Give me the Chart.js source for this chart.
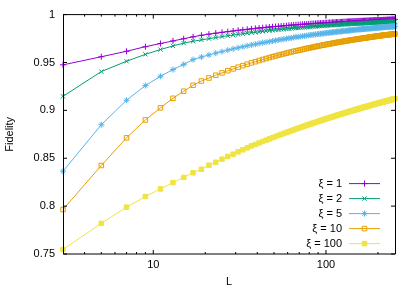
<!DOCTYPE html>
<html>
<head>
<meta charset="utf-8">
<script src="https://cdn.jsdelivr.net/npm/chart.js@4.4.1/dist/chart.umd.min.js"></script>
<style>
  body { margin: 0; background: #fff; }
  #wrap { width: 415px; height: 291px; }
</style>
</head>
<body>
<div id="wrap"><canvas id="fidChart" width="415" height="291"></canvas></div>
<script>
// system sizes L (all odd values 3..251)
const L = [
  3,5,7,9,11,13,15,17,19,21, 23,25,27,29,31,33,35,37,39,41, 43,45,47,49,51,53,55,57,59,61,
  63,65,67,69,71,73,75,77,79,81, 83,85,87,89,91,93,95,97,99,101, 103,105,107,109,111,113,115,117,119,121,
  123,125,127,129,131,133,135,137,139,141, 143,145,147,149,151,153,155,157,159,161,
  163,165,167,169,171,173,175,177,179,181, 183,185,187,189,191,193,195,197,199,201,
  203,205,207,209,211,213,215,217,219,221, 223,225,227,229,231,233,235,237,239,241, 243,245,247,249,251];

const xi1 = [
  .9475,.9560,.9617,.9665,.9698,.9725,.9748,.9768,.9784,.9796, .9806,.9815,.9822,.9829,.9836,.9841,.9846,.9851,.9856,.9860,
  .9863,.9867,.9870,.9873,.9876,.9878,.9881,.9883,.9885,.9888, .9890,.9892,.9894,.9895,.9897,.9898,.9900,.9901,.9903,.9904,
  .9906,.9907,.9908,.9909,.9910,.9911,.9912,.9913,.9914,.9915, .9916,.9917,.9918,.9919,.9920,.9921,.9922,.9922,.9923,.9924,
  .9924,.9925,.9926,.9926,.9927,.9928,.9928,.9929,.9930,.9930, .9931,.9931,.9932,.9932,.9933,.9933,.9934,.9934,.9935,.9935,
  .9935,.9936,.9936,.9937,.9937,.9938,.9938,.9938,.9939,.9939, .9940,.9940,.9940,.9941,.9941,.9941,.9942,.9942,.9942,.9942,
  .9943,.9943,.9944,.9944,.9944,.9944,.9945,.9945,.9945,.9945, .9946,.9946,.9947,.9947,.9947,.9947,.9948,.9948,.9948,.9948,
  .9949,.9949,.9949,.9950,.9950];
const xi2 = [
  .9147,.9405,.9513,.9585,.9635,.9673,.9702,.9722,.9736,.9749, .9760,.9770,.9779,.9786,.9793,.9800,.9806,.9811,.9816,.9820,
  .9825,.9829,.9832,.9836,.9839,.9842,.9845,.9848,.9850,.9853, .9855,.9857,.9860,.9862,.9864,.9865,.9867,.9869,.9871,.9872,
  .9874,.9875,.9877,.9878,.9880,.9881,.9882,.9883,.9885,.9886, .9887,.9888,.9889,.9890,.9891,.9892,.9893,.9894,.9895,.9896,
  .9896,.9897,.9898,.9899,.9900,.9901,.9901,.9902,.9903,.9903, .9904,.9904,.9905,.9905,.9906,.9907,.9907,.9908,.9909,.9909,
  .9910,.9910,.9911,.9911,.9912,.9912,.9913,.9913,.9914,.9914, .9915,.9915,.9916,.9916,.9917,.9917,.9917,.9918,.9918,.9918,
  .9919,.9919,.9920,.9920,.9920,.9921,.9921,.9922,.9922,.9922, .9923,.9923,.9924,.9924,.9924,.9925,.9925,.9926,.9926,.9926,
  .9926,.9927,.9927,.9927,.9927];
const xi5 = [
  .8364,.8850,.9106,.9259,.9356,.9426,.9480,.9530,.9557,.9579, .9598,.9614,.9629,.9642,.9653,.9664,.9674,.9683,.9691,.9699,
  .9706,.9712,.9718,.9724,.9730,.9735,.9740,.9744,.9749,.9753, .9757,.9761,.9765,.9768,.9771,.9774,.9777,.9780,.9783,.9786,
  .9789,.9791,.9793,.9795,.9798,.9800,.9802,.9804,.9806,.9808, .9810,.9812,.9813,.9815,.9817,.9818,.9820,.9822,.9823,.9824,
  .9826,.9827,.9828,.9830,.9831,.9832,.9834,.9835,.9836,.9838, .9839,.9840,.9841,.9842,.9843,.9844,.9845,.9846,.9847,.9848,
  .9849,.9850,.9851,.9852,.9852,.9853,.9854,.9855,.9855,.9856, .9857,.9858,.9858,.9859,.9860,.9861,.9861,.9862,.9863,.9864,
  .9864,.9865,.9866,.9867,.9868,.9868,.9869,.9869,.9870,.9870, .9871,.9871,.9872,.9872,.9873,.9873,.9874,.9874,.9875,.9875,
  .9876,.9876,.9877,.9877,.9878];
const xi10 = [
  .7965,.8424,.8713,.8900,.9026,.9126,.9200,.9262,.9306,.9338, .9367,.9391,.9414,.9433,.9451,.9467,.9482,.9496,.9508,.9520,
  .9531,.9541,.9551,.9560,.9568,.9576,.9583,.9590,.9597,.9604, .9610,.9616,.9621,.9626,.9631,.9636,.9641,.9646,.9650,.9654,
  .9658,.9662,.9666,.9669,.9673,.9676,.9680,.9683,.9686,.9689, .9692,.9694,.9697,.9700,.9702,.9705,.9708,.9710,.9713,.9715,
  .9717,.9719,.9721,.9724,.9726,.9728,.9729,.9731,.9733,.9735, .9737,.9739,.9740,.9742,.9744,.9745,.9747,.9748,.9750,.9751,
  .9753,.9754,.9756,.9757,.9758,.9760,.9761,.9762,.9764,.9765, .9766,.9767,.9769,.9770,.9771,.9772,.9774,.9775,.9776,.9777,
  .9778,.9779,.9780,.9781,.9782,.9783,.9784,.9785,.9786,.9787, .9788,.9788,.9789,.9790,.9791,.9792,.9792,.9793,.9794,.9795,
  .9796,.9797,.9797,.9798,.9799];
const xi100 = [
  .7547,.7820,.7989,.8100,.8180,.8246,.8300,.8348,.8385,.8427, .8458,.8490,.8518,.8542,.8567,.8588,.8609,.8629,.8643,.8660,
  .8675,.8689,.8702,.8714,.8726,.8738,.8749,.8759,.8769,.8778, .8787,.8796,.8805,.8813,.8821,.8828,.8836,.8843,.8850,.8857,
  .8863,.8869,.8875,.8881,.8887,.8893,.8899,.8904,.8909,.8914, .8919,.8923,.8928,.8933,.8937,.8942,.8946,.8951,.8955,.8959,
  .8962,.8966,.8970,.8974,.8978,.8981,.8985,.8988,.8991,.8995, .8998,.9001,.9005,.9008,.9011,.9014,.9017,.9020,.9023,.9026,
  .9029,.9031,.9034,.9037,.9039,.9042,.9044,.9047,.9049,.9052, .9054,.9057,.9059,.9062,.9064,.9066,.9069,.9071,.9073,.9075,
  .9077,.9079,.9081,.9083,.9085,.9087,.9089,.9091,.9093,.9095, .9097,.9098,.9100,.9102,.9104,.9106,.9107,.9109,.9111,.9113,
  .9115,.9117,.9118,.9120,.9122];

const seriesNames = ['ξ = 1', 'ξ = 2', 'ξ = 5', 'ξ = 10', 'ξ = 100'];
const seriesValues = [xi1, xi2, xi5, xi10, xi100];

const yTicks = [0.75, 0.8, 0.85, 0.9, 0.95, 1];
const xMajor = [10, 100];
const xMinor = [4, 5, 6, 7, 8, 9, 20, 30, 40, 50, 60, 70, 80, 90, 200];

// gnuplot-ish look
const colors = ['#9400d3', '#009e73', '#56b4e9', '#e69f00', '#f0e442'];
const styles = ['cross', 'crossRot', 'star', 'rect', 'rect'];
const fills = ['#9400d3', '#009e73', '#56b4e9', 'rgba(0,0,0,0)', '#f0e442'];
const radii = [3, 3, 3, 3.2, 3.2];
const FONT = '"Liberation Sans", Arial, sans-serif';

const datasets = seriesNames.map((name, i) => ({
  label: name,
  data: L.map((x, j) => ({ x: x, y: seriesValues[i][j] })),
  borderColor: colors[i],
  backgroundColor: colors[i],
  pointBackgroundColor: fills[i],
  pointBorderColor: colors[i],
  pointStyle: styles[i],
  pointRadius: radii[i],
  pointBorderWidth: 1,
  borderWidth: 1,
  showLine: true,
  tension: 0,
  clip: false,
  order: 5 - i
}));

// box + inward ticks, mirrored on top and right
const frame = {
  id: 'frame',
  afterDatasetsDraw(chart) {
    const { ctx, chartArea: a, scales: { x, y } } = chart;
    ctx.save();
    ctx.strokeStyle = '#000';
    ctx.lineWidth = 1;
    ctx.beginPath();
    ctx.rect(a.left + 0.5, a.top, a.right - a.left, a.bottom - a.top);
    ctx.stroke();
    ctx.beginPath();
    xMajor.concat(xMinor).forEach(v => {
      const px = x.getPixelForValue(v);
      const len = xMajor.includes(v) ? 4 : 2;
      ctx.moveTo(px, a.bottom); ctx.lineTo(px, a.bottom - len);
      ctx.moveTo(px, a.top); ctx.lineTo(px, a.top + len);
    });
    yTicks.forEach(v => {
      const py = y.getPixelForValue(v);
      ctx.moveTo(a.left, py); ctx.lineTo(a.left + 4, py);
      ctx.moveTo(a.right, py); ctx.lineTo(a.right - 4, py);
    });
    ctx.stroke();
    ctx.restore();
  }
};

const keyBox = {
  id: 'keyBox',
  afterDraw(chart) {
    const { ctx, chartArea: a } = chart;
    ctx.save();
    ctx.font = '11px ' + FONT;
    ctx.textAlign = 'right';
    ctx.textBaseline = 'middle';
    chart.data.datasets.forEach((ds, i) => {
      const ky = a.top + 169 + i * 15;
      const kx = a.right - 53;
      ctx.fillStyle = '#000';
      ctx.fillText(ds.label, kx, ky);
      ctx.strokeStyle = ds.borderColor;
      ctx.lineWidth = 1;
      ctx.beginPath();
      ctx.moveTo(kx + 7, ky); ctx.lineTo(kx + 38, ky);
      ctx.stroke();
      ctx.fillStyle = ds.pointBackgroundColor;
      Chart.helpers.drawPoint(ctx, { pointStyle: ds.pointStyle, radius: ds.pointRadius, borderWidth: 1, rotation: 0 }, kx + 22.5, ky);
    });
    ctx.restore();
  }
};

new Chart(document.getElementById('fidChart'), {
  type: 'scatter',
  data: { datasets: datasets },
  options: {
    responsive: false,
    animation: false,
    layout: { padding: { top: 14, right: 20, left: 0, bottom: 0 } },
    plugins: { legend: { display: false }, tooltip: { enabled: false } },
    scales: {
      x: {
        type: 'logarithmic',
        min: 3, max: 251,
        grid: { display: false, drawTicks: false },
        border: { display: false },
        afterBuildTicks: s => { s.ticks = xMajor.concat(xMinor).sort((p, q) => p - q).map(v => ({ value: v })); },
        afterFit: s => { s.height = 37; },
        ticks: {
          autoSkip: false, maxRotation: 0, padding: 4,
          color: '#000', font: { family: FONT, size: 11 },
          callback: v => xMajor.includes(v) ? String(v) : ''
        },
        title: { display: true, text: 'L', color: '#000', font: { family: FONT, size: 11 }, padding: { top: 0, bottom: 2 } }
      },
      y: {
        min: 0.75, max: 1,
        grid: { display: false, drawTicks: false },
        border: { display: false },
        afterBuildTicks: s => { s.ticks = yTicks.map(v => ({ value: v })); },
        afterFit: s => { s.width = 63; },
        ticks: {
          padding: 8, color: '#000', font: { family: FONT, size: 11 },
          callback: v => String(Number(v.toFixed(2)))
        },
        title: { display: true, text: 'Fidelity', color: '#000', font: { family: FONT, size: 11 }, padding: { top: 3, bottom: 0 } }
      }
    }
  },
  plugins: [frame, keyBox]
});
</script>
</body>
</html>
